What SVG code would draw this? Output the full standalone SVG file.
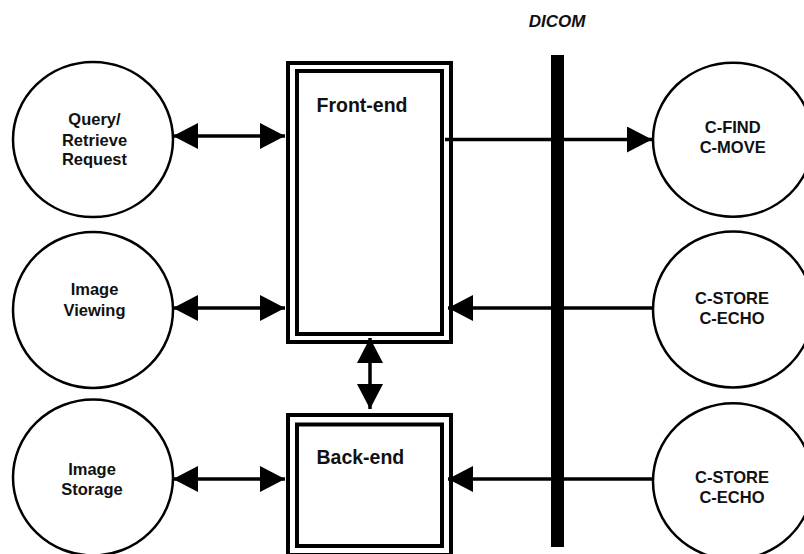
<svg xmlns="http://www.w3.org/2000/svg" width="804" height="554" viewBox="0 0 804 554">
<style>
.bg{fill:#fff}
.circ{fill:#fff;stroke:#000;stroke-width:2.5}
.box{fill:none;stroke:#000;stroke-width:4}
.lbl{font-family:"Liberation Sans",Arial,sans-serif;font-weight:bold;font-size:16.5px;fill:#111;text-anchor:middle}
.big{font-family:"Liberation Sans",Arial,sans-serif;font-weight:bold;font-size:19.5px;fill:#111}
.dicom{font-family:"Liberation Sans",Arial,sans-serif;font-weight:bold;font-style:italic;font-size:17px;fill:#111;text-anchor:middle}
.conn{stroke:#000;stroke-width:3.5;fill:none}
</style>
<defs>
<marker id="ah" markerUnits="userSpaceOnUse" markerWidth="26" markerHeight="26" refX="25" refY="13" orient="auto-start-reverse" viewBox="0 0 26 26">
<path d="M0,0 L25,13 L0,26 z" fill="#000"/>
</marker>
</defs>
<rect class="bg" x="0" y="0" width="804" height="554"/>
<text class="dicom" x="557" y="27">DICOM</text>
<rect id="dicom-bar" x="551" y="55" width="13" height="492" fill="#000"/>
<g id="connectors">
<line class="conn" x1="173" y1="136" x2="285" y2="136" marker-start="url(#ah)" marker-end="url(#ah)"/>
<line class="conn" x1="173" y1="308" x2="285" y2="308" marker-start="url(#ah)" marker-end="url(#ah)"/>
<line class="conn" x1="173" y1="479" x2="285" y2="479" marker-start="url(#ah)" marker-end="url(#ah)"/>
<line class="conn" x1="445" y1="139.5" x2="652" y2="139.5" marker-end="url(#ah)"/>
<line class="conn" x1="653" y1="308" x2="448" y2="308" marker-end="url(#ah)"/>
<line class="conn" x1="653" y1="479" x2="448" y2="479" marker-end="url(#ah)"/>
<line class="conn" x1="370" y1="338" x2="370" y2="409" marker-start="url(#ah)" marker-end="url(#ah)"/>
</g>
<g id="front-end">
<rect class="box" x="288" y="63" width="163" height="279"/>
<rect class="box" x="297" y="71" width="145" height="263"/>
<text class="big" x="316.5" y="111.5">Front-end</text>
</g>
<g id="back-end">
<rect class="box" x="288" y="415" width="163" height="140"/>
<rect class="box" x="297" y="424.5" width="145" height="121.5"/>
<text class="big" x="316.5" y="463.5">Back-end</text>
</g>
<g id="query-retrieve">
<ellipse class="circ" cx="93" cy="139.5" rx="80" ry="77.5"/>
<text class="lbl" x="94.5" y="125">Query/</text>
<text class="lbl" x="94.5" y="145.5">Retrieve</text>
<text class="lbl" x="94.5" y="165">Request</text>
</g>
<g id="image-viewing">
<ellipse class="circ" cx="93" cy="310" rx="80" ry="78"/>
<text class="lbl" x="94.5" y="295">Image</text>
<text class="lbl" x="94.5" y="316">Viewing</text>
</g>
<g id="image-storage">
<ellipse class="circ" cx="93" cy="477.5" rx="80" ry="78"/>
<text class="lbl" x="92" y="475">Image</text>
<text class="lbl" x="92" y="495">Storage</text>
</g>
<g id="c-find-move">
<ellipse class="circ" cx="733" cy="139.7" rx="80" ry="77"/>
<text class="lbl" x="732.7" y="132.7">C-FIND</text>
<text class="lbl" x="732.7" y="153">C-MOVE</text>
</g>
<g id="c-store-echo-1">
<ellipse class="circ" cx="733" cy="309.5" rx="80" ry="78"/>
<text class="lbl" x="732" y="304">C-STORE</text>
<text class="lbl" x="732" y="323.5">C-ECHO</text>
</g>
<g id="c-store-echo-2">
<ellipse class="circ" cx="733" cy="481.3" rx="80" ry="78"/>
<text class="lbl" x="732" y="483.3">C-STORE</text>
<text class="lbl" x="732" y="503.3">C-ECHO</text>
</g>
</svg>
